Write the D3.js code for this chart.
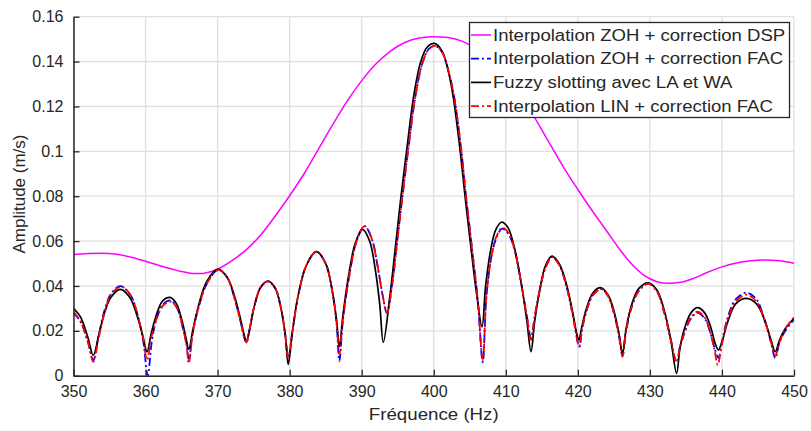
<!DOCTYPE html>
<html><head><meta charset="utf-8">
<script src="https://cdn.jsdelivr.net/npm/d3@7"></script>
<style>
body{margin:0;background:#fff}
svg{display:block}
text{font-family:"Liberation Sans",Arial,Helvetica,sans-serif;fill:#262626}
</style>
</head><body>
<svg id="chart" width="811" height="431"></svg>
<script>
// ---- data ----
const xTicks = [350,360,370,380,390,400,410,420,430,440,450];
const yTicks = [0,0.02,0.04,0.06,0.08,0.1,0.12,0.14,0.16];
const xLabel = "Fréquence (Hz)";
const yLabel = "Amplitude (m/s)";
const seriesNames = [
  "Interpolation ZOH + correction DSP",
  "Interpolation ZOH + correction FAC",
  "Fuzzy slotting avec LA et WA",
  "Interpolation LIN + correction FAC"
];

// [frequency Hz, amplitude m/s]
const zohDsp = [
  [350,0.0540],[352,0.0545],[354,0.0546],[356,0.0541],[358,0.0528],[360,0.0510],[362,0.0490],[364,0.0472],
  [365,0.0464],[366,0.0458],[367,0.0455],[368,0.0456],[369,0.0463],[370,0.0475],[372,0.0513],[374,0.0562],
  [376,0.0628],[378,0.0712],[380,0.0802],[382,0.0900],[384,0.1010],[386,0.1120],[388,0.1225],[390,0.1315],
  [392,0.1390],[394,0.1447],[396,0.1485],[398,0.1505],[400,0.1511],[402,0.1507],[404,0.1490],[406,0.1455],
  [408,0.1405],[410,0.1335],[412,0.1250],[414,0.1150],[416,0.1040],[418,0.0930],[420,0.0830],[422,0.0735],
  [424,0.0645],[426,0.0555],[427,0.0515],[428,0.0480],[429,0.0452],[430,0.0432],[431,0.0419],[432,0.0413],
  [433,0.0412],[434,0.0415],[435,0.0422],[436,0.0433],[438,0.0461],[440,0.0485],[442,0.0502],[444,0.0512],
  [446,0.0516],[448,0.0512],[450,0.0501]
];

const zohFac = [
  [350,0.028],[351,0.024],[352,0.015],[352.75,0.007],
  [353.5,0.018],[354.3,0.029],[355.2,0.0365],[356.5,0.0399],[357.9,0.036],[358.9,0.027],[359.7,0.015],[360.3,0.0],
  [360.9,0.016],[361.6,0.026],[362.5,0.032],[363.5,0.0335],[364.4,0.030],[365.2,0.021],[365.7,0.014],[366.0,0.007],
  [366.6,0.020],[367.5,0.032],[368.5,0.041],[370.1,0.0472],[371.3,0.044],[372.3,0.035],[373.2,0.024],[373.7,0.017],[374.0,0.0148],
  [374.4,0.020],[375.1,0.031],[376,0.0395],[377,0.042],[378,0.039],[378.8,0.030],[379.4,0.018],[379.8,0.0078],
  [380.4,0.020],[381.2,0.036],[382.3,0.049],[383.7,0.0553],[385,0.050],[385.9,0.038],[386.5,0.024],[386.9,0.0065],
  [387.4,0.025],[388.3,0.045],[389.3,0.060],[390.4,0.0667],[391.4,0.061],[392.2,0.049],[392.9,0.036],[393.5,0.028],
  [394.2,0.040],[394.9,0.059],[395.65,0.0798],[396.5,0.102],[397.4,0.1235],[398.4,0.139],[399.3,0.1455],[400.2,0.147],
  [401.2,0.144],[402.1,0.135],[402.9,0.123],[403.8,0.101],[404.5,0.0795],[405.3,0.057],[406.1,0.034],[406.8,0.006],
  [407.3,0.035],[408,0.053],[408.7,0.0615],[409.5,0.0655],[410.4,0.063],[411.3,0.055],[412.2,0.040],[412.9,0.027],[413.5,0.017],
  [414,0.026],[414.7,0.038],[415.5,0.048],[416.4,0.053],[417.4,0.0495],[418.4,0.040],[419.3,0.027],[420.2,0.013],
  [420.6,0.021],[421.3,0.030],[422.1,0.036],[423.2,0.0388],[424.2,0.0355],[425,0.028],[425.7,0.018],[426.2,0.009],
  [426.7,0.020],[427.5,0.031],[428.5,0.038],[429.8,0.041],[431,0.0375],[432,0.028],[432.9,0.016],[433.7,0.006],
  [434.2,0.013],[434.9,0.020],[435.7,0.0255],[436.6,0.028],[437.6,0.0255],[438.4,0.019],[439.0,0.012],[439.5,0.008],
  [440,0.015],[440.8,0.026],[441.9,0.034],[443.4,0.037],[444.8,0.034],[445.9,0.025],[446.8,0.015],[447.4,0.0078],
  [448,0.015],[448.8,0.020],[450,0.025]
];

const fuzzy = [
  [350,0.030],[351,0.026],[352,0.017],[352.75,0.009],
  [353.5,0.018],[354.3,0.028],[355.2,0.035],[356.5,0.0385],[357.8,0.035],[358.8,0.027],[359.6,0.018],[360.2,0.0107],
  [360.8,0.019],[361.6,0.028],[362.4,0.0335],[363.4,0.0349],[364.3,0.032],[365.1,0.024],[365.6,0.017],[366,0.0118],
  [366.6,0.021],[367.5,0.033],[368.5,0.042],[370,0.0475],[371.3,0.044],[372.3,0.036],[373.2,0.025],[373.7,0.018],[374,0.0152],
  [374.4,0.020],[375.1,0.031],[376,0.0395],[377,0.0422],[378,0.039],[378.8,0.030],[379.4,0.018],[379.8,0.005],
  [380.4,0.020],[381.2,0.036],[382.3,0.049],[383.7,0.0553],[385,0.050],[385.9,0.038],[386.5,0.025],[386.9,0.0129],
  [387.4,0.027],[388.2,0.045],[389.1,0.059],[390.1,0.0652],[391.1,0.060],[391.9,0.047],[392.5,0.032],[393,0.0149],
  [393.9,0.0352],[394.7,0.058],[395.45,0.0798],[396.3,0.102],[397.2,0.1243],[398.2,0.140],[399.1,0.1465],[400.1,0.1481],
  [401.1,0.145],[402,0.136],[402.7,0.1243],[403.6,0.102],[404.35,0.0798],[405.2,0.056],[406,0.0352],[406.7,0.0218],
  [407.2,0.040],[407.9,0.056],[408.6,0.065],[409.4,0.0684],[410.3,0.066],[411.2,0.057],[412.1,0.042],[412.9,0.025],[413.5,0.0107],
  [414,0.024],[414.7,0.038],[415.5,0.049],[416.4,0.0533],[417.4,0.050],[418.4,0.041],[419.3,0.028],[419.9,0.018],[420.15,0.0159],
  [420.5,0.021],[421.2,0.030],[422.1,0.037],[423.2,0.0392],[424.2,0.036],[425,0.029],[425.7,0.019],[426.2,0.0100],
  [426.7,0.021],[427.5,0.032],[428.5,0.039],[429.8,0.0414],[431,0.038],[432,0.029],[432.9,0.016],[433.7,0.001],
  [434.2,0.013],[434.9,0.022],[435.7,0.028],[436.6,0.0303],[437.6,0.028],[438.4,0.022],[439.1,0.014],[439.5,0.0115],
  [440,0.015],[440.8,0.024],[441.9,0.032],[443.4,0.0345],[444.8,0.032],[445.9,0.025],[446.8,0.016],[447.4,0.0107],
  [448,0.016],[448.8,0.021],[450,0.0256]
];

const linFac = [
  [350,0.0285],[351,0.024],[352,0.015],[352.75,0.0062],
  [353.5,0.017],[354.3,0.028],[355.2,0.036],[356.6,0.0397],[357.9,0.036],[358.9,0.027],[359.7,0.016],[360.2,0.0069],
  [360.8,0.017],[361.6,0.026],[362.5,0.0315],[363.5,0.0330],[364.4,0.030],[365.2,0.021],[365.7,0.013],[366.0,0.0055],
  [366.6,0.020],[367.5,0.032],[368.5,0.041],[370.1,0.0472],[371.3,0.044],[372.3,0.035],[373.2,0.024],[373.7,0.017],[374.0,0.0148],
  [374.4,0.020],[375.1,0.031],[376,0.0395],[377,0.042],[378,0.039],[378.8,0.030],[379.4,0.018],[379.8,0.0078],
  [380.4,0.020],[381.2,0.036],[382.3,0.049],[383.7,0.0553],[385,0.050],[385.9,0.038],[386.5,0.024],[386.9,0.0095],
  [387.4,0.025],[388.3,0.045],[389.3,0.060],[390.4,0.0667],[391.4,0.061],[392.2,0.049],[392.9,0.036],[393.5,0.0278],
  [394.2,0.040],[394.9,0.059],[395.65,0.0798],[396.5,0.102],[397.4,0.1235],[398.4,0.139],[399.3,0.1455],[400.2,0.147],
  [401.2,0.144],[402.1,0.135],[402.9,0.123],[403.8,0.101],[404.5,0.0795],[405.3,0.057],[406.1,0.034],[406.8,0.007],
  [407.3,0.035],[408,0.053],[408.7,0.062],[409.5,0.066],[410.4,0.0635],[411.3,0.055],[412.2,0.040],[412.9,0.027],[413.5,0.016],
  [414,0.026],[414.7,0.038],[415.5,0.048],[416.4,0.0528],[417.4,0.0495],[418.4,0.040],[419.3,0.027],[420.2,0.0129],
  [420.6,0.021],[421.3,0.030],[422.1,0.036],[423.2,0.0386],[424.2,0.0355],[425,0.028],[425.7,0.018],[426.2,0.0085],
  [426.7,0.020],[427.5,0.031],[428.5,0.038],[429.8,0.041],[431,0.0375],[432,0.028],[432.9,0.016],[433.7,0.006],
  [434.2,0.013],[434.9,0.020],[435.7,0.026],[436.6,0.0285],[437.6,0.026],[438.4,0.019],[439.0,0.011],[439.4,0.0048],
  [440,0.014],[440.8,0.025],[441.9,0.033],[443.4,0.0361],[444.8,0.033],[445.9,0.025],[446.8,0.015],[447.4,0.0089],
  [448,0.015],[448.8,0.021],[450,0.026]
];

const seriesData = [zohDsp, zohFac, fuzzy, linFac];
const seriesColors = ["#ff00ff", "#0000ff", "#000000", "#ff0000"];
const seriesDash = [null, "8,3,2,3", null, "8,3,2,3"];
const seriesWidth = [1.5, 1.8, 1.7, 1.8];
const seriesCurve = [d3.curveMonotoneX, d3.curveCatmullRom.alpha(0.5), d3.curveCatmullRom.alpha(0.5), d3.curveCatmullRom.alpha(0.5)];

// ---- layout ----
const svg = d3.select("#chart");
const plot = {left: 73.5, right: 794, top: 16.7, bottom: 375.7};
const x = d3.scaleLinear().domain([350, 450]).range([plot.left, plot.right]);
const y = d3.scaleLinear().domain([0, 0.16]).range([plot.bottom, plot.top]);

svg.append("defs").append("clipPath").attr("id", "clip")
  .append("rect").attr("x", plot.left).attr("y", plot.top)
  .attr("width", plot.right - plot.left).attr("height", plot.bottom - plot.top);

// grid
const grid = svg.append("g").attr("stroke", "#e0e0e0").attr("stroke-width", 1.3);
grid.selectAll("line.gx").data(xTicks).join("line")
  .attr("x1", d => x(d)).attr("x2", d => x(d)).attr("y1", plot.top).attr("y2", plot.bottom);
grid.selectAll("line.gy").data(yTicks).join("line")
  .attr("y1", d => y(d)).attr("y2", d => y(d)).attr("x1", plot.left).attr("x2", plot.right);

// series
const gLines = svg.append("g").attr("clip-path", "url(#clip)");
seriesData.forEach((data, i) => {
  const line = d3.line().x(d => x(d[0])).y(d => y(d[1])).curve(seriesCurve[i]);
  gLines.append("path").datum(data)
    .attr("fill", "none")
    .attr("stroke", seriesColors[i])
    .attr("stroke-width", seriesWidth[i])
    .attr("stroke-dasharray", seriesDash[i])
    .attr("stroke-linejoin", "round")
    .attr("d", line);
});

// axes
const fmt = d3.format("~g");
const xAxis = svg.append("g").attr("transform", `translate(0,${plot.bottom})`)
  .call(d3.axisBottom(x).tickValues(xTicks).tickFormat(fmt).tickSizeInner(-6).tickSizeOuter(0).tickPadding(10));
const yAxis = svg.append("g").attr("transform", `translate(${plot.left},0)`)
  .call(d3.axisLeft(y).tickValues(yTicks).tickFormat(fmt).tickSizeInner(-6).tickSizeOuter(0).tickPadding(10));
[xAxis, yAxis].forEach(a => {
  a.select(".domain").attr("stroke", "#262626").attr("stroke-width", 1.5);
  a.selectAll(".tick line").attr("stroke", "#262626").attr("stroke-width", 1.3);
  a.selectAll(".tick text").attr("font-size", 16).attr("fill", "#262626")
    .style("font-family", '"Liberation Sans", Arial, sans-serif');
});

// axis labels
svg.append("text")
  .attr("transform", `translate(${(plot.left + plot.right) / 2},414) scale(1.1,1)`)
  .attr("text-anchor", "middle").attr("dominant-baseline", "central")
  .attr("font-size", 17).text(xLabel);
svg.append("text")
  .attr("transform", `translate(19.5,194) rotate(-90)`)
  .attr("text-anchor", "middle").attr("dominant-baseline", "central")
  .attr("font-size", 17).text(yLabel);

// legend
const leg = svg.append("g");
leg.append("rect").attr("x", 469.5).attr("y", 22.5).attr("width", 320).attr("height", 95)
  .attr("fill", "#fff").attr("stroke", "#262626").attr("stroke-width", 1.3);
seriesNames.forEach((name, i) => {
  const cy = 35 + i * 23.7;
  leg.append("line").attr("x1", 471).attr("x2", 491).attr("y1", cy).attr("y2", cy)
    .attr("stroke", seriesColors[i]).attr("stroke-width", seriesWidth[i])
    .attr("stroke-dasharray", seriesDash[i]);
  leg.append("text")
    .attr("transform", `translate(493,${cy}) scale(1.16,1)`)
    .attr("dominant-baseline", "central").attr("font-size", 16).text(name);
});
</script>
</body></html>
